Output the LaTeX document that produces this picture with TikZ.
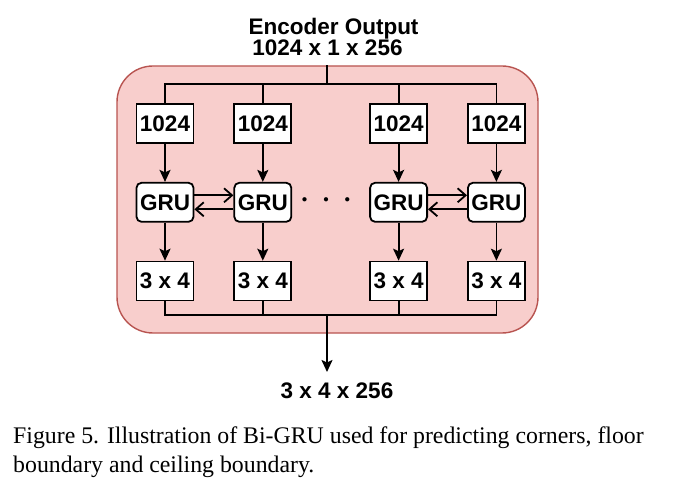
\documentclass[tikz,border=0pt]{standalone}
\usepackage{fontspec}
\setmainfont{Liberation Serif}
\setsansfont{Liberation Sans}
\usepackage{xcolor}
\usetikzlibrary{arrows.meta, positioning}
\definecolor{panelfill}{HTML}{F8CECC}
\definecolor{paneldraw}{HTML}{B85450}

\begin{document}
\begin{tikzpicture}[
    x=1pt, y=-1pt,
    node distance=38pt and 39pt,
    panel/.style={rectangle, rounded corners=36pt, draw=paneldraw, fill=panelfill, line width=1.4pt, minimum width=421pt, minimum height=267pt},
    box/.style={rectangle, draw=black, fill=white, line width=1.8pt, minimum width=57pt, minimum height=39pt, inner sep=0pt, font=\sffamily\bfseries\fontsize{22.5}{27}\selectfont},
    gru/.style={box, rounded corners=5pt},
    arrow/.style={-{Stealth[length=12pt, width=11pt, inset=2.5pt]}, line width=1.8pt},
    barb/.style={-{Straight Barb[length=8pt, width=14pt]}, line width=1.8pt},
    bus/.style={line width=1.8pt},
    lbl/.style={font=\sffamily\bfseries\fontsize{22.5}{27}\selectfont, inner sep=0pt}
]
\useasboundingbox (0,0) rectangle (673,500);

% red container
\node[panel] (panel) at (327.5,199.5) {};

% input row
\node[box] (in1) at (165,123.5) {1024};
\node[box, right=of in1] (in2) {1024};
\node[box, right=77pt of in2] (in3) {1024};
\node[box, right=of in3] (in4) {1024};

% GRU and output rows
\foreach \i in {1,2,3,4} {
  \node[gru, below=of in\i] (gru\i) {GRU};
  \node[box, below=of gru\i] (out\i) {3 x 4};
  \draw[arrow] (in\i) -- (gru\i);
  \draw[arrow] (gru\i) -- (out\i);
}

\node (dots) at (326,200) {\fontsize{11}{13}\selectfont$\bullet\mkern22mu\bullet\mkern22mu\bullet$};

% forward / backward links
\draw[barb] ([yshift=7pt]gru1.east) -- ([yshift=7pt]gru2.west);
\draw[barb] ([yshift=-7pt]gru2.west) -- ([yshift=-7pt]gru1.east);
\draw[barb] ([yshift=7pt]gru3.east) -- ([yshift=7pt]gru4.west);
\draw[barb] ([yshift=-7pt]gru4.west) -- ([yshift=-7pt]gru3.east);

% buses
\coordinate (tbus) at (327,84);
\coordinate (bbus) at (327,315);
\coordinate (res) at (327,372);
\draw[bus] (panel.north -| tbus) -- (tbus);
\draw[bus] (in1.north) |- (tbus) -| (in4.north);
\draw[bus] (in2.north) -- (in2.north |- tbus);
\draw[bus] (in3.north) -- (in3.north |- tbus);
\draw[bus] (out1.south) |- (bbus) -| (out4.south);
\draw[bus] (out2.south) -- (out2.south |- bbus);
\draw[bus] (out3.south) -- (out3.south |- bbus);
\draw[arrow] (bbus) -- (res);

% labels
\node[lbl, anchor=base] (title) at (333.5,35) {Encoder Output};
\node[lbl, anchor=base] (shape) at (327.5,56) {1024 x 1 x 256};
\node[lbl, anchor=base] (result) at (337,398) {3 x 4 x 256};

% caption
\node[anchor=base west, inner sep=0pt, font=\fontsize{23.8}{29}\selectfont] (cap1) at (13,443) {Figure 5. Illustration of Bi-GRU used for predicting corners, floor};
\node[anchor=base west, inner sep=0pt, font=\fontsize{23.8}{29}\selectfont] (cap2) at (13,472) {boundary and ceiling boundary.};

\end{tikzpicture}
\end{document}
